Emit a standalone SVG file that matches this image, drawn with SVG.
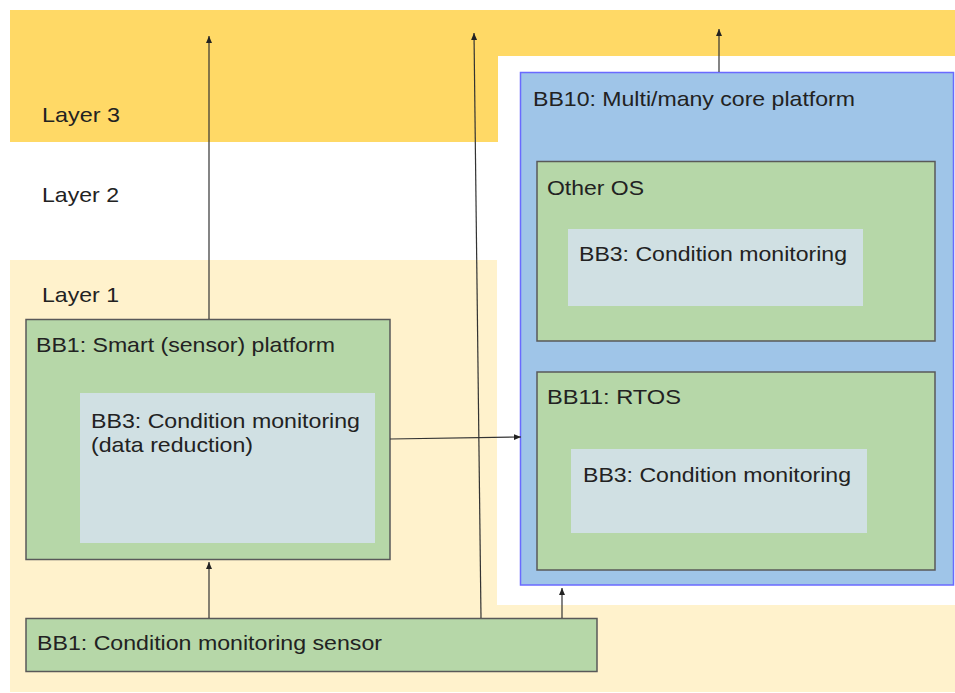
<svg xmlns="http://www.w3.org/2000/svg" width="955" height="693" viewBox="0 0 955 693">
<defs>
<style>
text{font-family:"Liberation Sans",Arial,sans-serif;font-size:21px;fill:#222;}
.box{fill:#b6d7a8;stroke:#595959;stroke-width:1.5;}
.inner{fill:#d0e0e3;stroke:none;}
.blue{fill:#9fc5e8;stroke:#6a6aff;stroke-width:1.5;}
.conn{stroke:#333;stroke-width:1.2;fill:none;marker-end:url(#arr);}
</style>
<marker id="arr" markerUnits="userSpaceOnUse" markerWidth="8" markerHeight="8" viewBox="0 0 8 8" refX="7" refY="4" orient="auto">
<path d="M0,1 L7,4 L0,7 Z" fill="#222"/>
</marker>
</defs>
<rect width="955" height="693" fill="#fff"/>
<g id="layer3">
<polygon points="10,10 955,10 955,56 498,56 498,142 10,142" fill="#ffd966"/>
<text x="42" y="122" textLength="78" lengthAdjust="spacingAndGlyphs">Layer 3</text>
</g>
<g id="layer2">
<text x="42" y="202" textLength="77" lengthAdjust="spacingAndGlyphs">Layer 2</text>
</g>
<g id="layer1">
<polygon points="10,260 497,260 497,605 955,605 955,692 10,692" fill="#fff2cc"/>
<text x="42" y="302" textLength="77" lengthAdjust="spacingAndGlyphs">Layer 1</text>
</g>
<g id="bb10">
<rect class="blue" x="520.5" y="72.5" width="433" height="512.5"/>
<text x="533" y="106" textLength="322" lengthAdjust="spacingAndGlyphs">BB10: Multi/many core platform</text>
</g>
<g id="otheros">
<rect class="box" x="537" y="161.5" width="398" height="179.5"/>
<text x="547" y="195" textLength="97" lengthAdjust="spacingAndGlyphs">Other OS</text>
</g>
<g id="bb3-otheros">
<rect class="inner" x="568" y="229" width="295" height="77"/>
<text x="579" y="261" textLength="268" lengthAdjust="spacingAndGlyphs">BB3: Condition monitoring</text>
</g>
<g id="bb11">
<rect class="box" x="537" y="372" width="398" height="198"/>
<text x="547" y="404" textLength="134" lengthAdjust="spacingAndGlyphs">BB11: RTOS</text>
</g>
<g id="bb3-rtos">
<rect class="inner" x="571" y="449" width="296" height="84"/>
<text x="583" y="482" textLength="268" lengthAdjust="spacingAndGlyphs">BB3: Condition monitoring</text>
</g>
<g id="bb1-smart">
<rect class="box" x="26" y="319.5" width="364" height="240"/>
<text x="36" y="352" textLength="299" lengthAdjust="spacingAndGlyphs">BB1: Smart (sensor) platform</text>
</g>
<g id="bb3-smart">
<rect class="inner" x="80" y="393" width="295" height="150"/>
<text x="91" y="428" textLength="269" lengthAdjust="spacingAndGlyphs">BB3: Condition monitoring</text>
<text x="91" y="452" textLength="162" lengthAdjust="spacingAndGlyphs">(data reduction)</text>
</g>
<g id="bb1-sensor">
<rect class="box" x="26" y="618.5" width="571" height="53"/>
<text x="37" y="650" textLength="345" lengthAdjust="spacingAndGlyphs">BB1: Condition monitoring sensor</text>
</g>
<g id="connectors">
<line class="conn" x1="209" y1="319" x2="209" y2="36"/>
<line class="conn" x1="481" y1="618" x2="474" y2="33"/>
<line class="conn" x1="719" y1="72" x2="719" y2="29"/>
<line class="conn" x1="209" y1="618" x2="209" y2="562"/>
<line class="conn" x1="562" y1="618" x2="562" y2="588"/>
<line class="conn" x1="390" y1="439" x2="521" y2="437"/>
</g>
</svg>
